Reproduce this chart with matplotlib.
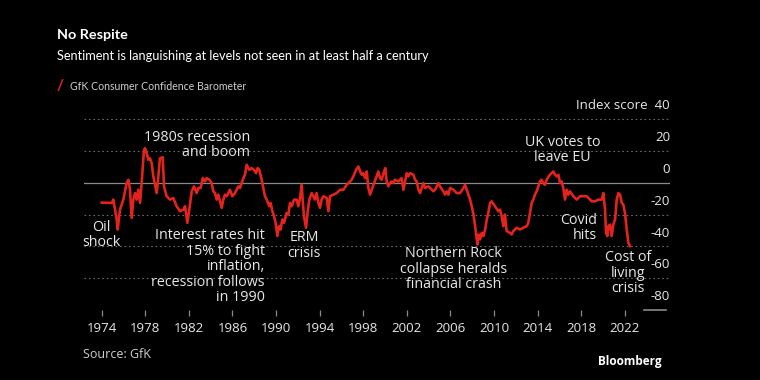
import matplotlib
matplotlib.use("Agg")
import matplotlib.pyplot as plt

# GfK consumer confidence
years = [
    1974.00, 1974.92, 1975.07, 1975.38, 1975.47, 1975.68, 1975.99, 1976.29, 1976.45, 1976.60,
    1976.75, 1976.91, 1977.06, 1977.21, 1977.36, 1977.52, 1977.67, 1977.88, 1977.98, 1978.13,
    1978.28, 1978.43, 1978.59, 1978.74, 1979.05, 1979.20, 1979.35, 1979.60, 1979.72, 1979.96,
    1980.27, 1980.57, 1980.88, 1981.19, 1981.49, 1981.65, 1981.86, 1982.04, 1982.26, 1982.47,
    1982.72, 1982.87, 1983.08, 1983.27, 1983.48, 1983.63, 1983.88, 1984.09, 1984.24, 1984.40,
    1984.55, 1984.70, 1985.01, 1985.16, 1985.31, 1985.47, 1985.77, 1985.99, 1986.23, 1986.39,
    1986.54, 1986.69, 1986.84, 1987.00, 1987.15, 1987.30, 1987.55, 1987.76, 1987.98, 1988.16,
    1988.31, 1988.46, 1988.68, 1988.83, 1988.98, 1989.14, 1989.38, 1989.50, 1989.66, 1989.81,
    1989.96, 1990.12, 1990.27, 1990.42, 1990.57, 1990.73, 1990.97, 1991.13, 1991.28, 1991.43,
    1991.65, 1991.89, 1992.04, 1992.20, 1992.35, 1992.44, 1992.56, 1992.75, 1992.87, 1993.05,
    1993.27, 1993.42, 1993.57, 1993.72, 1993.88, 1994.03, 1994.18, 1994.34, 1994.65, 1994.80,
    1994.95, 1995.26, 1995.56, 1995.87, 1996.18, 1996.48, 1996.79, 1996.94, 1997.09, 1997.34,
    1997.55, 1997.71, 1997.86, 1998.01, 1998.17, 1998.32, 1998.47, 1998.62, 1998.78, 1998.93,
    1999.17, 1999.38, 1999.54, 1999.69, 1999.91, 2000.02, 2000.15, 2000.30, 2000.45, 2000.61,
    2000.76, 2000.91, 2001.22, 2001.52, 2001.68, 2001.83, 2001.99, 2002.14, 2002.29, 2002.60,
    2002.75, 2002.90, 2003.06, 2003.21, 2003.36, 2003.52, 2003.67, 2003.98, 2004.13, 2004.43,
    2004.59, 2004.89, 2005.04, 2005.35, 2005.50, 2005.65, 2005.81, 2005.96, 2006.27, 2006.57,
    2006.88, 2007.19, 2007.34, 2007.49, 2007.65, 2007.80, 2007.95, 2008.11, 2008.26, 2008.41,
    2008.48, 2008.57, 2008.72, 2008.87, 2009.02, 2009.18, 2009.33, 2009.47, 2009.63, 2009.78,
    2010.09, 2010.39, 2010.54, 2010.70, 2010.85, 2011.00, 2011.15, 2011.46, 2011.61, 2011.76,
    2012.07, 2012.38, 2012.68, 2012.99, 2013.14, 2013.29, 2013.45, 2013.60, 2013.75, 2013.91,
    2014.06, 2014.21, 2014.36, 2014.52, 2014.67, 2014.82, 2015.13, 2015.28, 2015.44, 2015.59,
    2015.74, 2015.90, 2016.05, 2016.20, 2016.35, 2016.51, 2016.66, 2016.81, 2016.96, 2017.27,
    2017.58, 2017.89, 2018.19, 2018.50, 2018.80, 2018.96, 2019.26, 2019.57, 2019.88, 2020.03,
    2020.18, 2020.27, 2020.39, 2020.49, 2020.64, 2020.79, 2020.94, 2021.10, 2021.25, 2021.40,
    2021.56, 2021.71, 2021.86, 2022.01, 2022.17, 2022.32, 2022.47,
]
confidence = [
    -12.5, -12.7, -10.6, -23.1, -29.4, -16.9, -10.6, -0.2, 1.9, -4.4,
    -22.1, -10.6, -6.5, -10.6, -4.4, -12.7, -0.2, 20.6, 21.7, 18.5,
    14.4, 15.4, 12.3, 4.0, -6.5, 4.0, 15.4, 16.0, -2.3, -8.5,
    -10.6, -9.6, -14.8, -17.9, -16.9, -14.8, -25.2, -16.9, -5.4, -2.3,
    -6.5, -3.3, -3.3, 2.9, 0.8, 2.9, 1.9, -0.2, -5.4, -6.5,
    -10.6, -7.5, -15.8, -10.6, -7.5, -8.5, -4.4, -8.5, -6.5, -4.4,
    -2.3, -3.3, -0.2, 2.9, 5.0, 11.3, 8.1, 9.2, 8.1, 6.0,
    9.2, 8.1, 1.9, -3.3, -8.5, -10.6, -14.8, -12.7, -17.9, -21.0,
    -25.2, -33.5, -27.3, -29.4, -23.1, -25.2, -19.0, -20.0, -12.7, -14.8,
    -10.6, -10.6, -14.8, -9.6, -1.3, -10.6, -21.0, -28.3, -20.0, -10.6,
    -6.5, -8.5, -10.6, -6.5, -12.7, -15.8, -10.6, -8.5, -9.6, -17.9,
    -8.5, -7.5, -6.5, -4.4, -4.4, -1.3, 0.8, 1.9, 4.0, 8.1,
    10.2, 7.1, 5.0, 6.0, 2.9, 7.1, -3.3, -7.5, -4.4, -1.3,
    2.9, 7.1, 2.9, 1.9, 7.1, 9.2, 0.8, -2.3, -0.2, 0.8,
    -0.2, 1.9, 0.8, 2.9, -4.4, 0.8, 6.0, 4.0, 6.0, 5.0,
    1.9, 0.8, -4.4, -6.5, -3.3, -0.2, -3.3, -2.3, -3.3, -5.4,
    -4.4, -0.2, -2.3, -5.4, -7.5, -5.4, -7.5, -3.3, -4.4, -6.5,
    -6.5, -3.3, -1.3, -4.4, -7.5, -10.6, -14.8, -20.0, -27.3, -35.6,
    -38.8, -32.5, -35.6, -31.5, -33.5, -29.4, -23.1, -19.0, -12.7, -11.7,
    -14.8, -17.9, -16.9, -21.0, -27.3, -20.0, -30.4, -31.5, -32.5, -30.4,
    -28.3, -29.4, -28.3, -27.3, -25.2, -19.0, -12.7, -10.6, -7.5, -5.4,
    -2.3, 0.8, 1.9, -0.2, -1.3, 1.9, 5.0, 6.0, 7.1, 5.0,
    4.0, 5.0, -0.2, 0.8, -3.3, -10.6, -4.4, -7.5, -5.4, -8.5,
    -10.6, -8.5, -8.5, -8.5, -10.6, -11.7, -11.7, -10.6, -10.6, -6.5,
    -17.0, -31.5, -33.5, -27.3, -26.3, -33.5, -26.3, -23.1, -10.6, -6.5,
    -7.5, -12.7, -13.8, -19.0, -29.4, -37.7, -39.8,
]

tick_years = list(range(1974, 2023, 4))
y_ticks = [40, 20, 0, -20, -40, -60, -80]

annotations = [
    ("1980s recession\nand boom", 1987.6, 23.8, "right"),
    ("Oil\nshock", 1973.94, -32.8, "center"),
    ("Interest rates hit\n15% to fight\ninflation,\nrecession follows\nin 1990", 1988.98, -52.7, "right"),
    ("ERM\ncrisis", 1992.6, -39.4, "center"),
    ("Northern Rock\ncollapse heralds\nfinancial crash", 2006.3, -54.4, "center"),
    ("UK votes to\nleave EU", 2016.3, 20.4, "center"),
    ("Covid\nhits", 2019.41, -28.3, "right"),
    ("Cost of\nliving\ncrisis", 2022.28, -56.9, "center"),
]

bg = "#000000"
red = "#e3231c"
txt = "#e8e8e8"
grey = "#8a8a8a"
narrow = ["Lato", "DejaVu Sans"]
body = ["Open Sans", "DejaVu Sans"]

fig = plt.figure(figsize=(7.6, 3.8), dpi=100, facecolor=bg)
ax = fig.add_axes([84 / 760, 1 - 310 / 380, 586 / 760, 210 / 380])
ax.set_facecolor(bg)

for v in y_ticks:
    if v == 0:
        ax.axhline(v, color=grey, lw=0.9, zorder=1)
    elif v != -80:
        ax.axhline(v, color="#6a6a6a", lw=0.8, ls=(0, (1.5, 2.5)), zorder=1)
    lab = "Index score  40" if v == 40 else str(v)
    ax.annotate(lab, xy=(1, v), xycoords=("axes fraction", "data"),
                xytext=(0, 9.5), textcoords="offset points",
                ha="right", va="center", color=txt, fontsize=9.5, family=body)
ax.plot([2023.8, 2025.8], [-80, -80], color=grey, lw=1.2, clip_on=False)

ax.plot(years, confidence, color=red, lw=1.9, zorder=3, solid_joinstyle="round")

ax.set_xlim(1972.38, 2026.14)
ax.set_ylim(-80, 52)
ax.set_yticks([])
ax.set_xticks(tick_years)
ax.set_xticklabels([str(y) for y in tick_years], color=txt, fontsize=9.5, family=body)
ax.tick_params(axis="x", length=4, width=0.9, color=grey, pad=4.5)
for s in ax.spines.values():
    s.set_visible(False)

for label, x, y, ha in annotations:
    ax.text(x, y, label, ha=ha, va="center", color=txt, fontsize=10.3,
            family=body, linespacing=1.04, zorder=4)

fig.text(57 / 760, 1 - 35 / 380, "No Respite", color="white", fontsize=10.4,
         fontweight="bold", family=narrow, va="center")
fig.text(57 / 760, 1 - 56 / 380,
         "Sentiment is languishing at levels not seen in at least half a century",
         color="white", fontsize=9.2, family=narrow, va="center")
fig.text(57 / 760, 1 - 86 / 380, "/", color=red, fontsize=11, fontweight="bold",
         family=narrow, va="center")
fig.text(70 / 760, 1 - 86 / 380, "GfK Consumer Confidence Barometer",
         color="#cfcfcf", fontsize=7.6, family=narrow, va="center")
fig.text(83 / 760, 1 - 354 / 380, "Source: GfK", color="#cfcfcf", fontsize=9,
         family=body, va="center")
fig.text(662 / 760, 1 - 362 / 380, "Bloomberg", color="white", fontsize=8.5,
         fontweight="bold", family=body, va="center", ha="right")

fig.savefig("out.png", dpi=100, facecolor=bg)
